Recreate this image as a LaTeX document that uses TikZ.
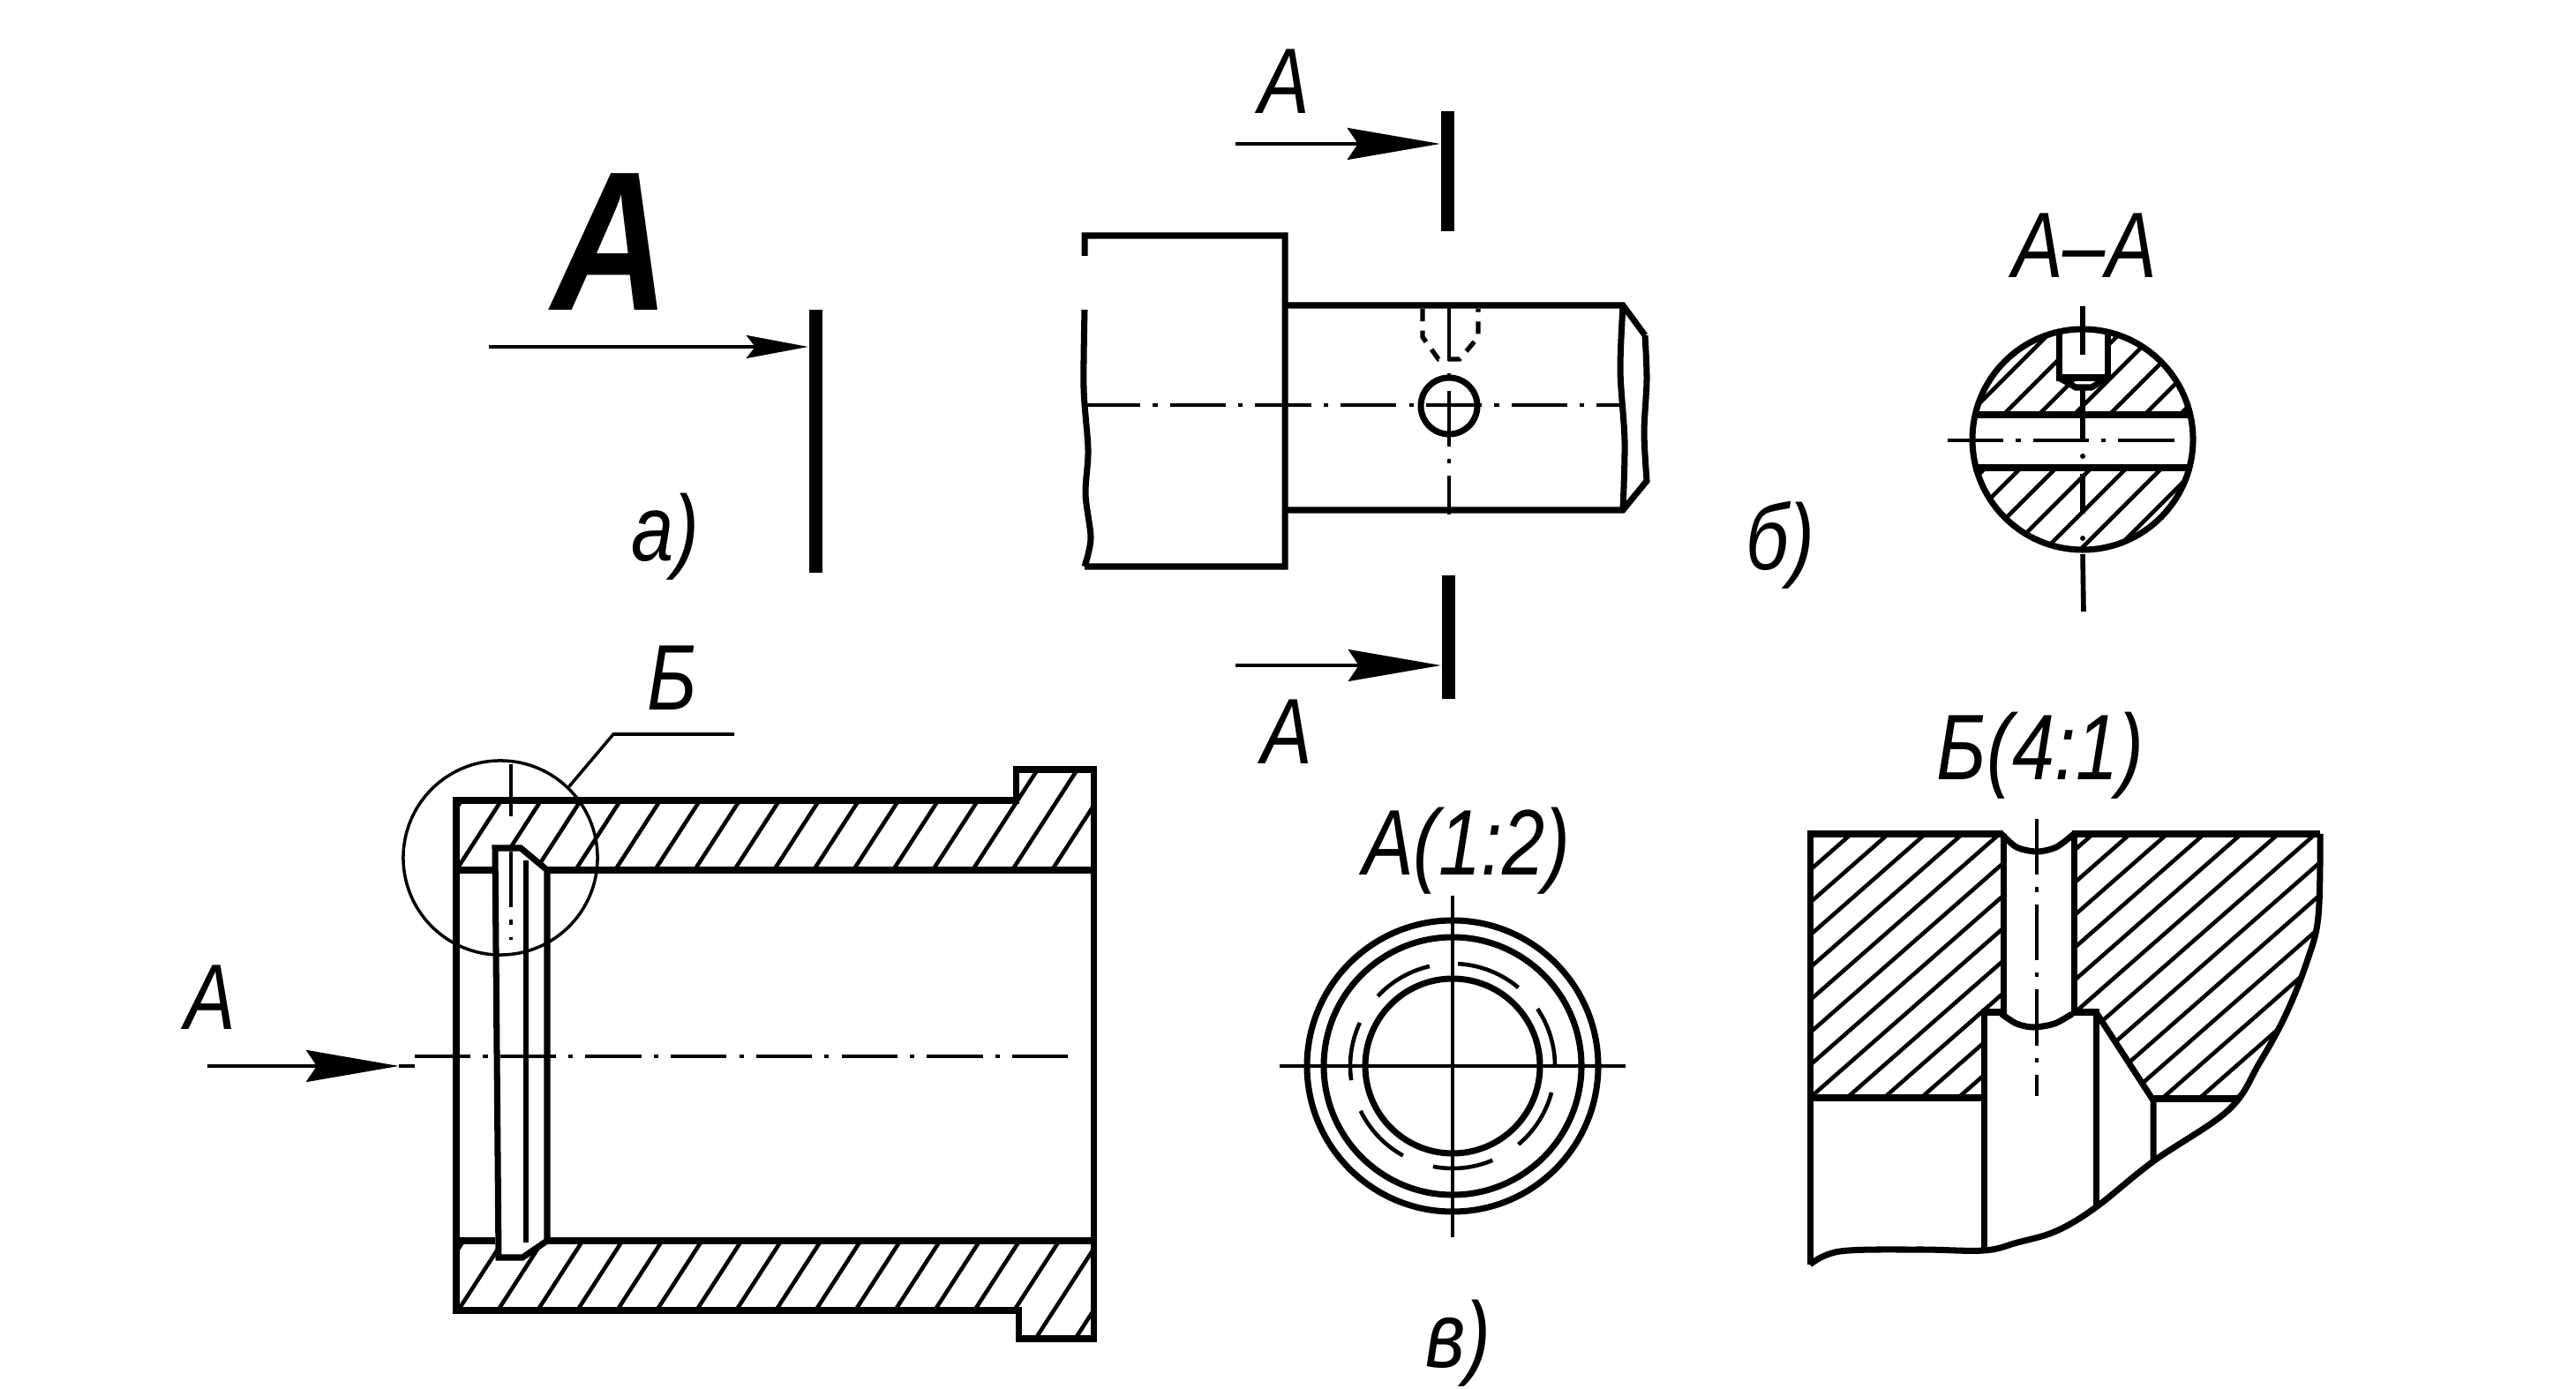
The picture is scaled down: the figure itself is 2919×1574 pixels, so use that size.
\documentclass[tikz,border=0pt]{standalone}
\usepackage{fontspec}
\setmainfont{Liberation Sans}[FakeStretch=.82]
\usetikzlibrary{arrows.meta,positioning}
\tikzset{
  every node/.style={align=center, inner sep=0},
  mainline/.style={line width=2pt},
  thinline/.style={line width=1pt},
  hatchline/.style={line width=1.3pt},
  axisline/.style={line width=1.2pt, dash pattern=on 18pt off 4pt on 1.5pt off 4pt},
  hiddenline/.style={line width=1.5pt, dash pattern=on 4pt off 3pt},
  cutbar/.style={fill=black, minimum width=1.5mm},
  secarrow/.style={line width=1pt, -{Stealth[length=10.5mm, width=3.6mm, inset=1.2mm]}},
  smallarrow/.style={line width=1pt, -{Stealth[length=7mm, width=2.6mm, inset=1mm]}},
  lbl/.style={font=\fontsize{30}{34}\selectfont\itshape},
  biglbl/.style={font=\fontsize{64}{68}\selectfont\bfseries\itshape}
}
\newcommand{\hatchzone}[5][1700]{%
  \begin{scope}
    \clip #2;
    \foreach \hx in {#3,#4,...,#5} \draw[hatchline] (\hx,0) -- +(-#1,1700);
  \end{scope}}
\begin{document}
\begin{tikzpicture}[x=0.01cm, y=-0.01cm]
\useasboundingbox (0,0) rectangle (2919,1574);

% a)
\node[biglbl] (bigA) at (692,274) {А};
\node[cutbar, minimum height=29.7mm] (barA) at (924,500) {};
\coordinate (startA) at (554,393);
\draw[smallarrow] (startA) -- (startA -| barA.west);
\node[lbl] (capA) at (754,608) {а)};

% b)
\node[cutbar, minimum height=13.5mm] (cutTop) at (1640,194) {};
\node[cutbar, minimum height=14mm] (cutBot) at (1641,722) {};
\coordinate (startTop) at (1400,163);
\coordinate (startBot) at (1400,754);
\draw[secarrow] (startTop) -- (startTop -| cutTop.west);
\draw[secarrow] (startBot) -- (startBot -| cutBot.west);
\node[lbl] (labTop) at (1455,92) {А};
\node[lbl] (labBot) at (1458,829) {А};
\draw[mainline] (1229,290) -- (1229,267) -- (1456,267) -- (1456,642) -- (1229,642)
  plot[smooth] coordinates {(1229,642) (1236,610) (1230,560) (1233,510) (1228,440) (1229,351)};
\draw[mainline] (1456,346) -- (1839,346) -- (1864,380) plot[smooth] coordinates {(1864,380) (1866,430) (1863,490) (1866,545)} -- (1839,578) -- (1456,578);
\draw[mainline] (1839,346) plot[smooth] coordinates {(1839,346) (1836,420) (1841,500) (1839,578)};
\draw[axisline] (1229,459) -- (1839,459);
\draw[axisline] (1642,346) -- (1642,583);
\draw[hiddenline] (1612,350) -- (1612,382) -- (1630,407) -- (1654,407) -- (1675,382) -- (1675,350);
\draw[mainline] (1642,460) circle (32);
\node[lbl] (capB) at (2017,618) {б)};

% section
\node[lbl] (labSec) at (2362,278) {А--А};
\coordinate (secC) at (2360,498);
\begin{scope}
  \clip (secC) circle (125);
  \foreach \hx in {2620,2660,...,3120} \draw[hatchline] (\hx,0) -- +(-1700,1700);
  \fill[white] (2230,470) rectangle (2490,530);
  \fill[white] (2333,370) rectangle (2388,428);
\end{scope}
\draw[mainline] (secC) circle (125);
\draw[mainline] (2236,470) -- (2484,470) (2236,530) -- (2484,530);
\draw[mainline] (2333,376) -- (2333,428) -- (2388,428) -- (2388,376);
\draw[mainline] (2333,428) -- (2352,439) -- (2370,439) -- (2388,428);
\draw[thinline, line width=1.6pt] (2360,347) -- (2360,402) (2360,439) -- (2360,498) (2360,537) -- (2360,582) (2360,628) -- (2361,693);
\fill (2360,517) circle (3) (2360,610) circle (3);
\draw[axisline] (2207,499) -- (2470,499);
\node[lbl] (capSec) at (2312,856) {Б(4:1)};

% bushing
\hatchzone[1100]{(517,907) -- (1151,907) -- (1151,872) -- (1239,872) -- (1239,986) -- (620,986) -- (590,961) -- (561,961) -- (561,986) -- (517,986) -- cycle}{1110}{1155}{1890}
\hatchzone[1100]{(517,1406) -- (561,1406) -- (565,1425) -- (592,1425) -- (620,1406) -- (1239,1406) -- (1239,1517) -- (1154,1517) -- (1154,1485) -- (517,1485) -- cycle}{1435}{1480}{2230}
\draw[mainline] (517,907) -- (1151,907) -- (1151,872) -- (1239,872) -- (1239,1517) -- (1154,1517) -- (1154,1485) -- (517,1485) -- cycle;
\draw[mainline] (517,986) -- (561,986) (620,986) -- (1239,986);
\draw[mainline] (517,1406) -- (561,1406) (620,1406) -- (1239,1406);
\draw[mainline] (561,961) -- (590,961) -- (620,986) -- (620,1406) -- (592,1425) -- (565,1425) -- cycle;
\draw[thinline, line width=1.5pt] (596,975) -- (596,1408);
\draw[thinline] (579,866) -- (579,925);
\draw[axisline] (579,965) -- (579,1065);
\draw[axisline] (470,1197) -- (1221,1197);
\coordinate (startC) at (235,1208);
\coordinate (headC) at (452,1208);
\coordinate (endC) at (470,1208);
\draw[secarrow] (startC) -- (headC);
\draw[thinline] (headC) -- (endC);
\node[lbl] (labC) at (238,1130) {А};
\node[lbl] (labDet) at (762,768) {Б};
\node[circle, draw, thinline, minimum size=22mm] (detB) at (567,972) {};
\draw[thinline] (detB.46) -- (695,832) -- (832,832);

% view
\node[lbl] (labView) at (1662,964) {А(1:2)};
\coordinate (ring) at (1646,1208);
\draw[mainline] (ring) circle (165) (ring) circle (146) (ring) circle (99);
\foreach \a/\b in {103/137, 50/87, 0/34, -50/-15, -101/-67, 206/241, 155/188}
  \draw[thinline, line width=1.3pt] (ring) ++(-\a:116) arc[start angle=-\a, end angle=-\b, radius=116];
\draw[thinline, line width=1.2pt] (1450,1208) -- (1842,1208) (1646,1015) -- (1646,1402);
\node[lbl] (capC) at (1652,1522) {в)};

% detail
\hatchzone[1938]{(2051,945) -- (2270,945) -- (2270,1147) -- (2248,1147) -- (2248,1244) -- (2051,1244) -- cycle}{3133}{3175}{3700}
\hatchzone[1938]{(2350,945) -- (2629,945) -- (2627,1038) -- (2614,1090) -- (2590,1150) -- (2560,1205) -- (2535,1245) -- (2440,1245) -- (2375,1147) -- (2350,1147) -- cycle}{3407}{3449}{4060}
\draw[mainline] (2270,945) -- (2051,945) -- (2051,1433);
\draw[mainline] (2348,945) -- (2629,945);
\draw[mainline] (2270,945) -- (2270,1149) (2350,945) -- (2350,1149);
\draw[mainline] plot[smooth] coordinates {(2268,945) (2285,960) (2308,965) (2330,960) (2350,945)};
\draw[mainline] plot[smooth] coordinates {(2268,1149) (2285,1160) (2304,1164) (2328,1160) (2348,1149)};
\draw[mainline] (2270,1147) -- (2248,1147) -- (2248,1416);
\draw[mainline] (2348,1147) -- (2375,1147) -- (2375,1368);
\draw[mainline] (2051,1244) -- (2248,1244);
\draw[mainline] (2375,1147) -- (2440,1247) -- (2440,1316);
\draw[mainline] (2440,1245) -- (2536,1245);
\draw[mainline] plot[smooth, tension=.6] coordinates {(2629,945) (2627,1038) (2614,1090) (2590,1150) (2560,1205) (2525,1258) (2440,1316) (2375,1368) (2330,1395) (2286,1408) (2248,1417) (2174,1416) (2085,1418) (2051,1433)};
\draw[axisline] (2308,928) -- (2308,1242);
\end{tikzpicture}
\end{document}
